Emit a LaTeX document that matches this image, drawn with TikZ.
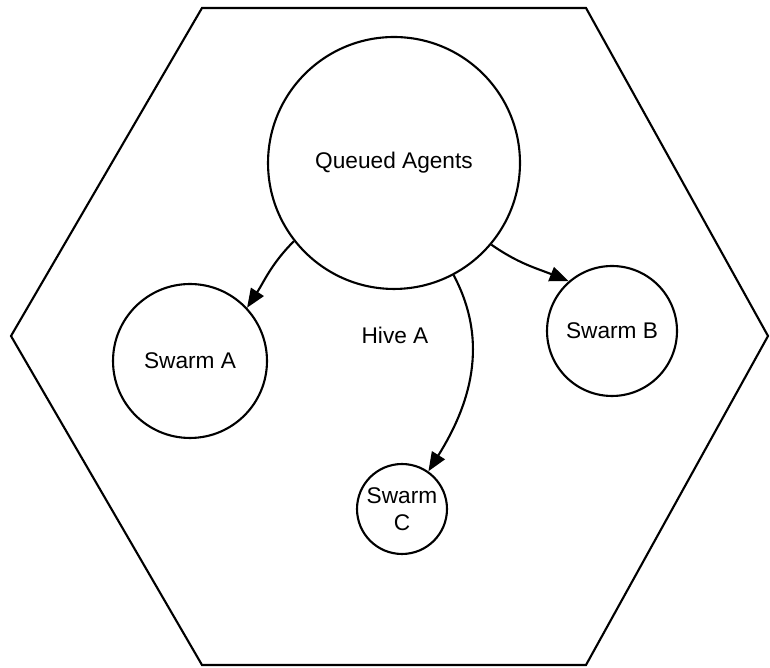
\documentclass[tikz,border=0pt]{standalone}
\usepackage{fontspec}
\setmainfont{Liberation Sans}
\usetikzlibrary{positioning, arrows.meta}

\begin{document}
\begin{tikzpicture}[x=0.02cm, y=0.02cm, line width=1.2pt,
		agent/.style={draw, shape=circle, inner sep=0pt, font=\fontsize{12.9}{15.5}\selectfont},
		spawn/.style={-{Triangle[length=0.38cm, width=0.3cm]}} ]
		\useasboundingbox (0,0) rectangle (770,668);
		% the hive
		\draw (202,660) -- (586,660) -- (768,332) -- (586,3) -- (202,3) -- (11,332) -- cycle;
		\node[font=\fontsize{12.9}{15.5}\selectfont] (hive) at (395,333) {Hive A};
		\node[agent, minimum size=5.04cm] (qa) at (394,505) {Queued Agents};
		\node[agent, minimum size=3.08cm] (swarma) at (190,307) {Swarm A};
		\node[agent, minimum size=2.6cm] (swarmb) at (612,337) {Swarm B};
		\node[agent, minimum size=1.8cm, align=center] (swarmc) at (402,159) {Swarm\\C};
		\draw[spawn] (qa.218) to[out=225, in=57] (swarma.43);
		\draw[spawn] (qa.320) to[out=-35, in=158] (swarmb.131);
		\draw[spawn] (qa.298) to[out=-62, in=58] (swarmc.55);
	\end{tikzpicture}
\end{document}
